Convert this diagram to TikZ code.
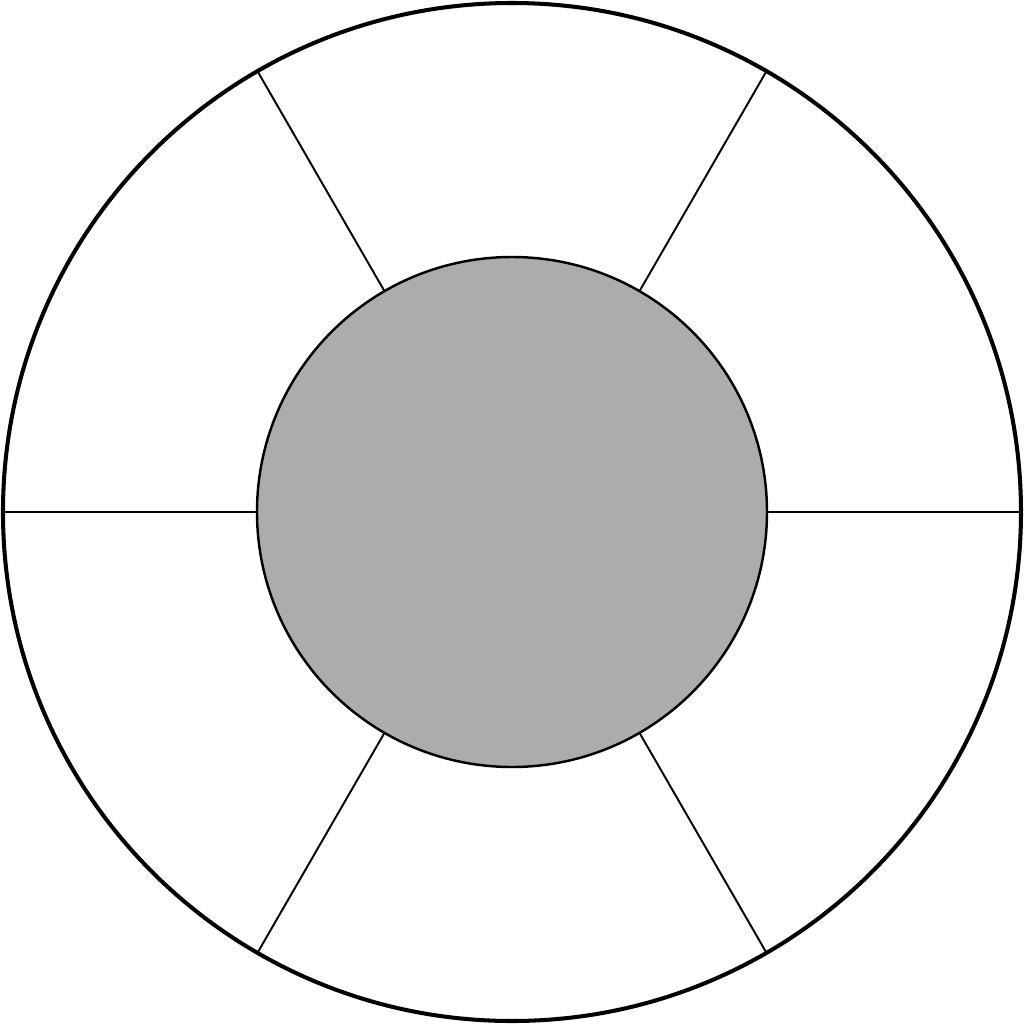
\documentclass[tikz,border=0pt]{standalone}
\usepackage{xcolor}
\usepackage{tikz}

\definecolor{hubgray}{HTML}{ACACAC}

\begin{document}
\begin{tikzpicture}[
        rimcircle/.style={
            draw,
            circle,
            inner sep=0pt,
            outer sep=0pt,
            minimum size=10.18cm,
            line width=1.15pt
        },
        hubcircle/.style={
            draw,
            circle,
            fill=hubgray,
            inner sep=0pt,
            outer sep=0pt,
            minimum size=5.1cm,
            line width=0.7pt
        },
        spoke/.style={line width=0.55pt}
    ]
        \useasboundingbox (-5.12,-5.12) rectangle (5.12,5.12);
        \node[rimcircle] (rim) at (0,0) {};
        \node[hubcircle] (hub) at (0,0) {};

        \foreach \a in {0,60,...,300}
            \draw[spoke] (hub.\a) -- (rim.\a);
    \end{tikzpicture}
\end{document}
